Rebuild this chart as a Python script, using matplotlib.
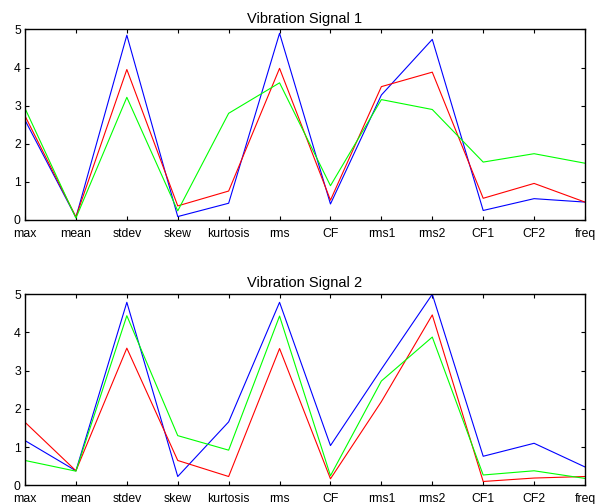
import matplotlib
matplotlib.use('Agg')
import matplotlib.pyplot as plt

features = ['max', 'mean', 'stdev', 'skew', 'kurtosis', 'rms', 'CF', 'rms1', 'rms2', 'CF1', 'CF2', 'freq']

# signal 1
s1_blue = [2.62, 0.07, 4.85, 0.09, 0.44, 4.90, 0.42, 3.28, 4.74, 0.25, 0.56, 0.47]
s1_red = [2.73, 0.08, 3.95, 0.37, 0.76, 3.98, 0.52, 3.50, 3.88, 0.57, 0.96, 0.47]
s1_green = [2.93, 0.05, 3.22, 0.24, 2.80, 3.60, 0.90, 3.16, 2.90, 1.52, 1.74, 1.49]

# signal 2
s2_blue = [1.17, 0.38, 4.79, 0.23, 1.66, 4.79, 1.04, 3.04, 5.00, 0.76, 1.10, 0.48]
s2_red = [1.65, 0.38, 3.59, 0.65, 0.23, 3.58, 0.17, 2.19, 4.46, 0.10, 0.19, 0.23]
s2_green = [0.65, 0.37, 4.44, 1.30, 0.92, 4.43, 0.25, 2.73, 3.88, 0.27, 0.38, 0.18]

titles = ['Vibration Signal 1', 'Vibration Signal 2']
data = [(s1_blue, s1_red, s1_green), (s2_blue, s2_red, s2_green)]

plt.rcParams['font.family'] = ['Liberation Sans', 'DejaVu Sans']

fig = plt.figure(figsize=(6, 5.04), dpi=100)
positions = [[0.0417, 0.5635, 0.9333, 0.378], [0.0417, 0.0371, 0.9333, 0.379]]

x = list(range(len(features)))
for pos, title, (b, r, g) in zip(positions, titles, data):
    ax = fig.add_axes(pos)
    ax.plot(x, b, color='#0000ff', lw=0.8)
    ax.plot(x, r, color='#ff0000', lw=0.8)
    ax.plot(x, g, color='#00ff00', lw=0.8)
    ax.set_xlim(0, len(features) - 1)
    ax.set_ylim(0, 5)
    ax.set_xticks(x)
    ax.set_xticklabels(features)
    ax.set_yticks([0, 1, 2, 3, 4, 5])
    ax.tick_params(direction='in', top=True, right=True, labelsize=8.8,
                   length=3, width=0.8)
    ax.tick_params(axis='x', pad=5.5)
    ax.tick_params(axis='y', pad=3)
    for sp in ax.spines.values():
        sp.set_linewidth(1.0)
    ax.set_title(title, fontsize=10.5, pad=5)

fig.savefig('out.png', dpi=100)
